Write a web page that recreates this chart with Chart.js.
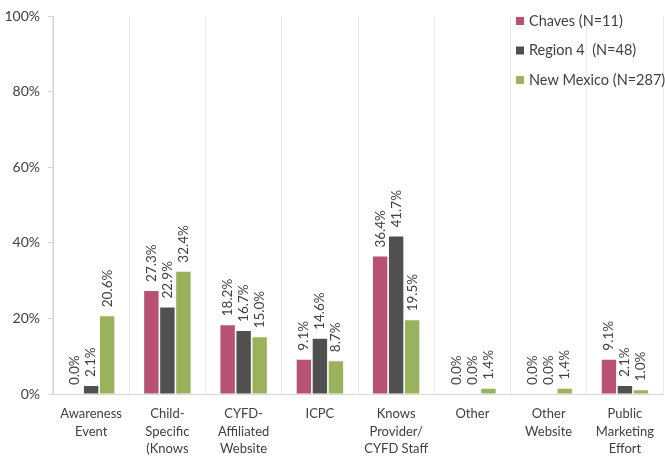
<!DOCTYPE html>
<html>
<head>
<meta charset="utf-8">
<script src="https://cdn.jsdelivr.net/npm/chart.js@4"></script>
<style>
  html, body { margin: 0; padding: 0; background: #fff; }
  #wrap { width: 665px; height: 457px; }
</style>
</head>
<body>
<div id="wrap"><canvas id="chart" width="665" height="457"></canvas></div>
<script>
// data
const categories = [
  ['Awareness', 'Event'],
  ['Child-', 'Specific', '(Knows'],
  ['CYFD-', 'Affiliated', 'Website'],
  ['ICPC'],
  ['Knows', 'Provider/', 'CYFD Staff'],
  ['Other'],
  ['Other', 'Website'],
  ['Public', 'Marketing', 'Effort']
];
const seriesNames = ['Chaves (N=11)', 'Region 4  (N=48)', 'New Mexico (N=287)'];
const chaves    = [0.0, 27.3, 18.2, 9.1, 36.4, 0.0, 0.0, 9.1];
const region4   = [2.1, 22.9, 16.7, 14.6, 41.7, 0.0, 0.0, 2.1];
const newMexico = [20.6, 32.4, 15.0, 8.7, 19.5, 1.4, 1.4, 1.0];
const yTicks = [0, 20, 40, 60, 80, 100];

const FONT = "Lato, 'Open Sans', sans-serif";
const colors = ['#b75274', '#505050', '#9bb25d'];

// rotated value labels above each bar
const valueLabels = {
  id: 'valueLabels',
  afterDatasetsDraw(chart) {
    const ctx = chart.ctx;
    ctx.save();
    ctx.font = '13.5px ' + FONT;
    ctx.fillStyle = '#404040';
    ctx.textAlign = 'left';
    ctx.textBaseline = 'middle';
    chart.data.datasets.forEach((ds, i) => {
      chart.getDatasetMeta(i).data.forEach((bar, j) => {
        ctx.save();
        ctx.translate(bar.x, bar.y - 9);
        ctx.rotate(-Math.PI / 2);
        ctx.fillText(ds.data[j].toFixed(1) + '%', 0, 0);
        ctx.restore();
      });
    });
    ctx.restore();
  }
};

// legend sitting inside the plot, top right
const innerLegend = {
  id: 'innerLegend',
  afterDraw(chart) {
    const ctx = chart.ctx;
    ctx.save();
    ctx.font = '14.5px ' + FONT;
    ctx.textBaseline = 'middle';
    ctx.textAlign = 'left';
    chart.data.datasets.forEach((ds, i) => {
      const y = 21 + i * 29.5;
      ctx.fillStyle = ds.backgroundColor;
      ctx.fillRect(516, y - 4, 8, 8);
      ctx.fillStyle = '#404040';
      ctx.fillText(ds.label, 529, y);
    });
    ctx.restore();
  }
};

new Chart(document.getElementById('chart'), {
  type: 'bar',
  data: {
    labels: categories,
    datasets: [
      { label: seriesNames[0], data: chaves,    backgroundColor: colors[0] },
      { label: seriesNames[1], data: region4,   backgroundColor: colors[1] },
      { label: seriesNames[2], data: newMexico, backgroundColor: colors[2] }
    ]
  },
  options: {
    responsive: false,
    animation: false,
    layout: { padding: { top: 14, right: 0, bottom: 0, left: 0 } },
    datasets: { bar: { categoryPercentage: 0.63, barPercentage: 0.9 } },
    plugins: { legend: { display: false }, tooltip: { enabled: false } },
    scales: {
      x: {
        grid: {
          offset: true,
          drawTicks: false,
          color: ctx => ctx.index === categories.length ? 'rgba(0,0,0,0)' : '#d6d6d6'
        },
        border: { color: '#d6d6d6', dash: [1, 1] },
        ticks: {
          autoSkip: false, maxRotation: 0, minRotation: 0, padding: 11,
          color: '#404040', font: { family: FONT, size: 13, lineHeight: 1.35 }
        },
        afterFit: s => { s.height = 63; }
      },
      y: {
        min: 0, max: 100,
        afterBuildTicks: s => { s.ticks = yTicks.map(v => ({ value: v })); },
        grid: { drawOnChartArea: false, drawTicks: true, tickLength: 5, color: '#d6d6d6' },
        border: { color: '#d6d6d6' },
        ticks: {
          padding: 8, color: '#404040',
          font: { family: FONT, size: 14 },
          callback: v => v + '%'
        },
        afterFit: s => { s.width = 53; }
      }
    }
  },
  plugins: [valueLabels, innerLegend]
});
</script>
</body>
</html>
